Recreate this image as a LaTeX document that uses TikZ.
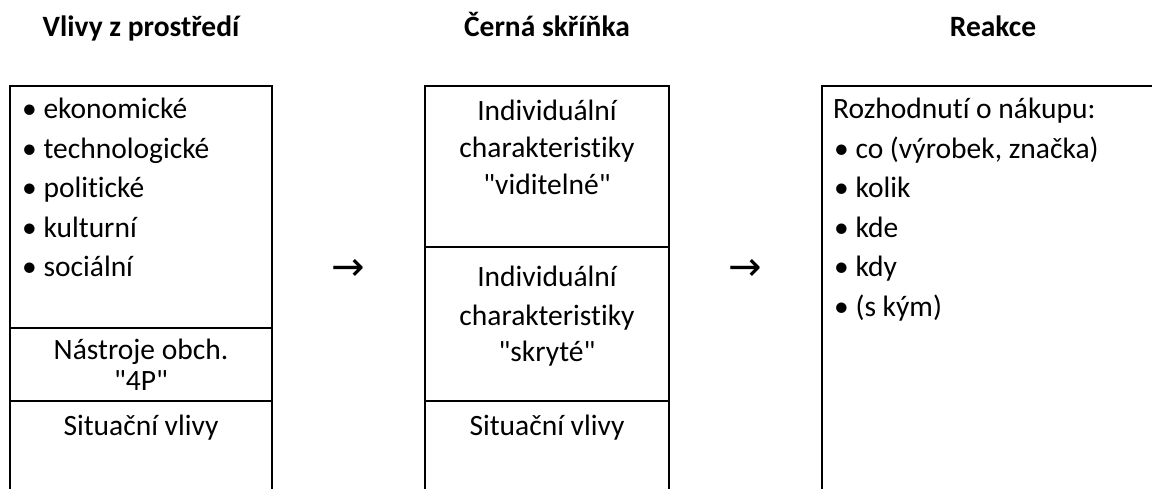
\documentclass[tikz,border=0pt]{standalone}
\usepackage{fontspec}
\setmainfont{Carlito}[Ligatures={NoCommon,NoRequired}]
\newfontfamily\arrowfont{DejaVu Sans}
\begin{document}
\begin{tikzpicture}[x=1pt,y=-1pt,
  boxline/.style={draw=black,line width=2pt},
  txt/.style={inner sep=0pt,anchor=base west,font=\fontsize{29.5}{35}\selectfont},
  ctxt/.style={inner sep=0pt,anchor=base,font=\fontsize{29.5}{35}\selectfont},
  ttl/.style={inner sep=0pt,anchor=base,font=\fontsize{29.5}{35}\selectfont\bfseries},
  arr/.style={inner sep=0pt,anchor=center,font=\arrowfont\fontsize{40}{46}\selectfont}]
\useasboundingbox (0,0) rectangle (1152,488);
% titles
\node[ttl] (t1) at (141,36) {Vlivy z prostředí};
\node[ttl] (t2) at (547,36) {Černá skříňka};
\node[ttl] (t3) at (993,36) {Reakce};
% left box
\draw[boxline] (9.5,495) -- (9.5,85.7) -- (272,85.7) -- (272,495);
\draw[boxline] (9.5,327.7) -- (272,327.7);
\draw[boxline] (9.5,401) -- (272,401);
\node[txt] (l1) at (22,118.3) {• ekonomické};
\node[txt] (l2) at (22,158) {• technologické};
\node[txt] (l3) at (22,197.5) {• politické};
\node[txt] (l4) at (22,237) {• kulturní};
\node[txt] (l5) at (22,276.5) {• sociální};
\node[ctxt] (l6) at (141,359) {Nástroje obch.};
\node[ctxt] (l7) at (141,390) {\textquotedbl 4P\textquotedbl};
\node[ctxt] (l8) at (141,435) {Situační vlivy};
% middle box
\draw[boxline] (424.7,495) -- (424.7,85.7) -- (669.3,85.7) -- (669.3,495);
\draw[boxline] (424.7,247.3) -- (669.3,247.3);
\draw[boxline] (424.7,401) -- (669.3,401);
\node[ctxt] (m1) at (547,120) {Individuální};
\node[ctxt] (m2) at (547,157.3) {charakteristiky};
\node[ctxt] (m3) at (547,194) {\textquotedbl viditelné\textquotedbl};
\node[ctxt] (m4) at (547,286.7) {Individuální};
\node[ctxt] (m5) at (547,325) {charakteristiky};
\node[ctxt] (m6) at (547,361.7) {\textquotedbl skryté\textquotedbl};
\node[ctxt] (m7) at (547,435) {Situační vlivy};
% right box
\draw[boxline] (821.7,495) -- (821.7,85.7) -- (1170,85.7);
\node[txt] (r0) at (833,118.3) {Rozhodnutí o nákupu:};
\node[txt] (r1) at (834,158.3) {• co (výrobek, značka)};
\node[txt] (r2) at (834,197.7) {• kolik};
\node[txt] (r3) at (834,237.3) {• kde};
\node[txt] (r4) at (834,276.7) {• kdy};
\node[txt] (r5) at (834,316) {• (s kým)};
% arrows
\node[arr] (a1) at (348,270) {→};
\node[arr] (a2) at (745,270) {→};
\end{tikzpicture}
\end{document}
